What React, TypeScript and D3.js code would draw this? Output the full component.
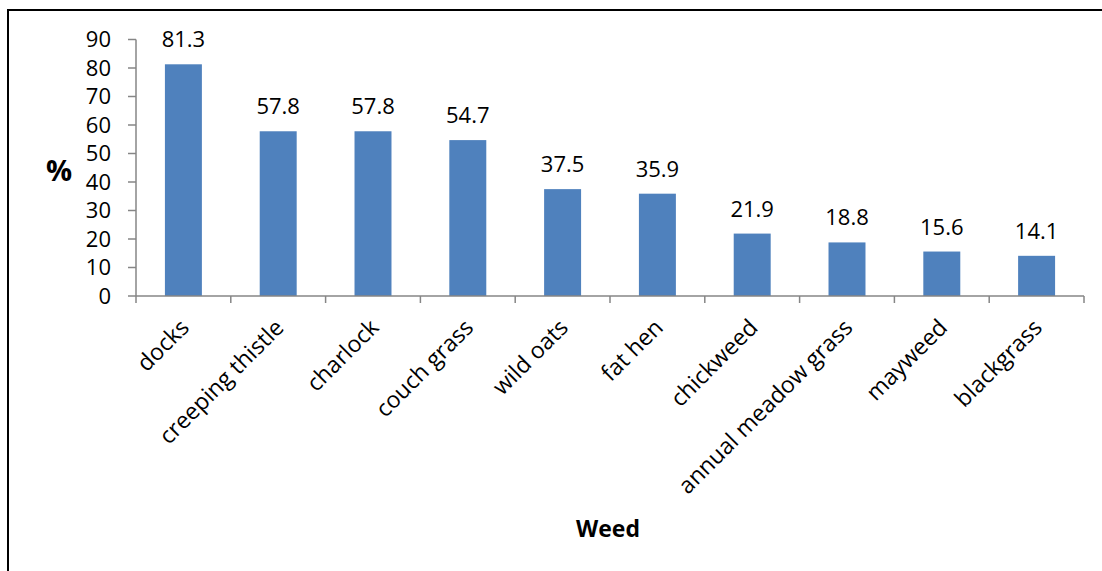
import React from "react";
import * as d3 from "d3";

const categories = ["docks", "creeping thistle", "charlock", "couch grass", "wild oats", "fat hen", "chickweed", "annual meadow grass", "mayweed", "blackgrass"];
const values = [81.3, 57.8, 57.8, 54.7, 37.5, 35.9, 21.9, 18.8, 15.6, 14.1];
const yTicks = [0, 10, 20, 30, 40, 50, 60, 70, 80, 90];

const W = 1102, H = 571;
const left = 136, right = 1084, top = 39.5, bottom = 296;
const FONT = "'Open Sans', Lato, sans-serif";

export default function App() {
  const x = d3.scaleBand<string>().domain(categories).range([left, right]).paddingInner(0.61).paddingOuter(0.305);
  const xb = d3.scaleBand<string>().domain(categories).range([left, right]);
  const y = d3.scaleLinear().domain([0, 90]).range([bottom, top]);
  const axisColor = "#868686";
  return (
    <svg width={W} height={H} style={{ position: "absolute", left: 0, top: 0, background: "#fff" }}>
      <rect x={0} y={0} width={W} height={H} fill="#fff" />
      <line x1={7} y1={10} x2={W} y2={10} stroke="#000" strokeWidth={2} />
      <line x1={8} y1={9} x2={8} y2={H} stroke="#000" strokeWidth={2} />
      {values.map((v, i) => (
        <rect key={i} x={x(categories[i])!} y={y(v)} width={x.bandwidth()} height={bottom - y(v)} fill="#4F81BD" />
      ))}
      <line x1={left} y1={top} x2={left} y2={bottom} stroke={axisColor} strokeWidth={1.5} />
      <line x1={left} y1={bottom} x2={right} y2={bottom} stroke={axisColor} strokeWidth={1.5} />
      {yTicks.map((t) => (
        <g key={t}>
          <line x1={left - 8} x2={left} y1={y(t)} y2={y(t)} stroke={axisColor} strokeWidth={1.5} />
          <text x={left - 25} y={y(t)} dy="0.36em" textAnchor="end" fontFamily={FONT} fontSize={22} fill="#000">{t}</text>
        </g>
      ))}
      {categories.map((c, i) => (
        <line key={"t" + i} x1={xb(c)!} x2={xb(c)!} y1={bottom} y2={bottom + 7} stroke={axisColor} strokeWidth={1.5} />
      ))}
      <line x1={right} x2={right} y1={bottom} y2={bottom + 7} stroke={axisColor} strokeWidth={1.5} />
      {values.map((v, i) => (
        <text key={"v" + i} x={x(categories[i])! + x.bandwidth() / 2} y={y(v) - 17} textAnchor="middle" fontFamily={FONT} fontSize={22} fill="#000">{v.toFixed(1)}</text>
      ))}
      {categories.map((c, i) => {
        const cx = xb(c)! + xb.bandwidth() / 2;
        return (
          <text key={"c" + i} transform={`translate(${cx + 7},${bottom + 33}) rotate(-45)`} textAnchor="end" fontFamily={FONT} fontSize={23} fill="#000">{c}</text>
        );
      })}
      <text x={59} y={181} textAnchor="middle" fontFamily={FONT} fontSize={29} fontWeight="bold" fill="#000">%</text>
      <text x={608} y={537} textAnchor="middle" fontFamily={FONT} fontSize={23} fontWeight="bold" fill="#000">Weed</text>
    </svg>
  );
}
